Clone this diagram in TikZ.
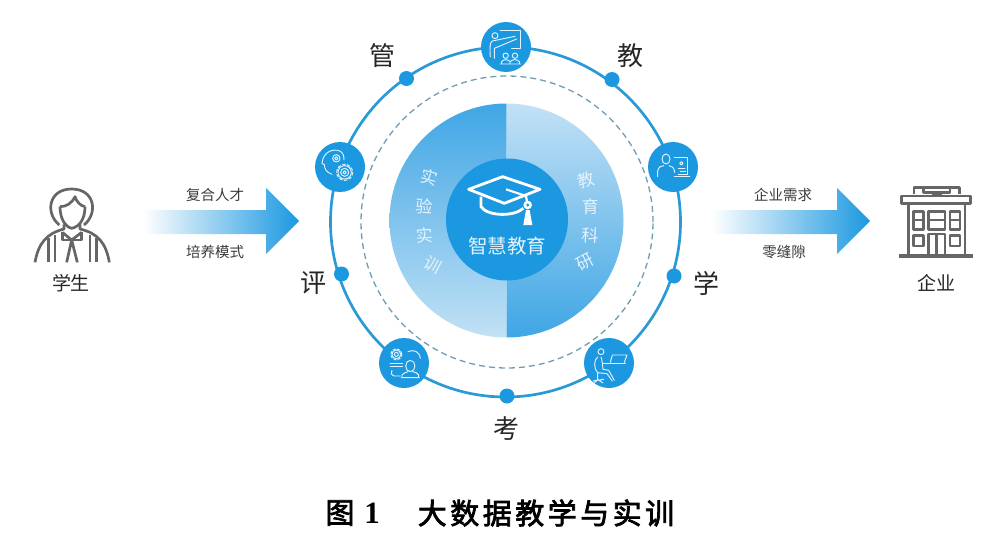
\documentclass[tikz,border=0pt]{standalone}
\usepackage{fontspec}
\newfontfamily\cjk{Noto Sans CJK SC}
\newfontfamily\cjkcap[LetterSpace=12,FakeBold=2.5]{Noto Sans CJK SC}
\newfontfamily\capfig{Liberation Serif}
\newcommand{\fsz}[1]{\fontsize{#1}{#1}\selectfont}
\definecolor{hubblue}{HTML}{1B98E0}
\definecolor{ringblue}{HTML}{2A9AD6}
\definecolor{dashgray}{HTML}{6E9DB3}
\definecolor{iconline}{HTML}{E3F3FC}
\definecolor{graytxt}{HTML}{3A3A3A}
\definecolor{icongray}{HTML}{666666}
\definecolor{lightsec}{HTML}{C2E1F5}
\definecolor{darksec}{HTML}{3FA6E5}
\definecolor{midsec}{HTML}{5CB4EA}
\tikzset{
  hub/.style={circle,fill=hubblue,minimum size=50pt,inner sep=0pt},
  dot/.style={circle,fill=hubblue,minimum size=15pt,inner sep=0pt},
  bigc/.style={font=\cjk\fsz{26},text=black!85,inner sep=0pt},
  midc/.style={font=\cjk\fsz{19},text=black!85,inner sep=0pt},
  smallc/.style={font=\cjk\fsz{14.5},text=graytxt,inner sep=0pt},
  sect/.style={font=\cjk\fsz{17},text=iconline,inner sep=0pt},
  hubicon/.style={draw=iconline,line width=0.95pt,line cap=round,line join=round},
  gicon/.style={draw=icongray,line width=2.7pt,line join=round},
  zoomed/.style={shift={#1},scale=0.33333}
}
\begin{document}
\begin{tikzpicture}[x=1pt,y=-1pt]
\useasboundingbox (0,0) rectangle (989,554);
% rings
\node[circle,draw=ringblue,line width=2.7pt,minimum size=350pt,inner sep=0pt] (ring) at (505.5,222) {};
\node[circle,draw=dashgray,line width=1.3pt,dash pattern=on 6pt off 4pt,minimum size=292pt,inner sep=0pt] (dashring) at (507,222) {};
% sectors
\shade[shading angle=35,top color=darksec,middle color=midsec,bottom color=lightsec]
  (506.5,103.5) arc[start angle=90,end angle=270,radius=117pt] -- cycle;
\shade[shading angle=35,top color=lightsec,middle color=midsec,bottom color=darksec]
  (506.5,103.5) arc[start angle=90,end angle=-90,radius=117pt] -- cycle;
\node[circle,fill=hubblue,minimum size=122pt,inner sep=0pt] (core) at (507,219.5) {};
% hubs and dots
\node[hub] (hubT) at (506,47) {};
\node[hub] (hubL) at (340,167) {};
\node[hub] (hubR) at (673,167) {};
\node[hub] (hubBL) at (404,363) {};
\node[hub] (hubBR) at (609,363) {};
\node[dot] (dotM) at (406.5,78.5) {};
\node[dot] (dotJ) at (612,79.5) {};
\node[dot] (dotP) at (341.5,274) {};
\node[dot] (dotX) at (674,276) {};
\node[dot] (dotK) at (507,396) {};
% labels around ring
\node[bigc] (tGuan) at (382,56) {管};
\node[bigc] (tJiao) at (630,56) {教};
\node[bigc] (tPing) at (313,283) {评};
\node[bigc] (tXue) at (706,283) {学};
\node[bigc] (tKao) at (506,429) {考};
% sector text
\node[sect,rotate=-15] (s1) at (429,177) {实};
\node[sect,rotate=-3] (s2) at (424,206) {验};
\node[sect,rotate=3] (s3) at (425,236) {实};
\node[sect,rotate=-28] (s4) at (433,265) {训};
\node[sect,rotate=15] (r1) at (586,180) {教};
\node[sect,rotate=2] (r2) at (591,207) {育};
\node[sect,rotate=-3] (r3) at (590,235) {科};
\node[sect,rotate=28] (r4) at (585,262) {研};
% cap
\begin{scope}[zoomed={(446,160)}]
  \draw[white,line width=2.8pt,line join=round] (68,88) -- (170,50) -- (282,88) -- (175,130) -- cycle;
  \draw[white,line width=2.8pt] (105,110) -- (105,140) .. controls (125,170) and (205,170) .. (232,145);
  \draw[white,line width=2.2pt] (180,88) -- (240,108) -- (243,125);
  \fill[white] (245,135) circle[radius=13];
  \fill[hubblue] (245,135) circle[radius=5];
  \fill[white] (240,150) -- (251,150) -- (259,195) -- (232,195) -- cycle;
\end{scope}
\node[font=\cjk\fsz{19.5},text=iconline,inner sep=0pt] (coretxt) at (507,246) {智慧教育};
% top hub icon
\begin{scope}[zoomed={(475,15)}]
  \draw[hubicon] (60,62) circle[radius=9];
  \draw[hubicon] (52,78) .. controls (44,82) and (44,100) .. (46,125) (58,130) -- (58,100) -- (125,72) (52,78) -- (120,64);
  \draw[hubicon] (75,45) -- (136,45) -- (136,100) -- (110,100);
  \draw[hubicon] (92,122) circle[radius=8] (120,122) circle[radius=8];
  \draw[hubicon] (80,146) -- (80,140) .. controls (84,132) and (100,132) .. (105,140) -- (105,146) (106,140) .. controls (110,132) and (128,132) .. (133,140) -- (133,146) (75,147) -- (138,147);
\end{scope}
% left hub icon
\begin{scope}[zoomed={(308,135)}]
  \draw[hubicon] (72,118) .. controls (55,112) and (48,100) .. (50,90) -- (42,85) .. controls (45,50) and (75,40) .. (95,48) .. controls (105,52) and (108,62) .. (108,75);
  \draw[hubicon] (85,70) circle[radius=11] (85,70) circle[radius=5];
  \draw[hubicon] (110,112) circle[radius=20] (110,112) circle[radius=12] (110,112) circle[radius=5];
  \draw[hubicon,dash pattern=on 3pt off 2pt,line width=1pt] (110,112) circle[radius=24];
\end{scope}
% right hub icon
\begin{scope}[zoomed={(641,135)}]
  \draw[hubicon] (75,72) ellipse[x radius=12,y radius=15];
  \draw[hubicon] (50,125) -- (50,108) .. controls (52,95) and (62,92) .. (68,92) (84,92) .. controls (92,92) and (100,98) .. (101,112);
  \draw[hubicon] (100,68) -- (140,68) -- (140,118) -- (112,118);
  \draw[hubicon] (121,85) circle[radius=5];
  \draw[hubicon] (112,100) -- (132,100) (118,108) -- (134,108);
  \draw[hubicon] (100,124) -- (147,124);
\end{scope}
% lower left hub icon
\begin{scope}[zoomed={(372,331)}]
  \draw[hubicon] (73,70) circle[radius=13] (73,70) circle[radius=6];
  \draw[hubicon,dash pattern=on 2.5pt off 2pt,line width=1pt] (73,70) circle[radius=17];
  \draw[hubicon] (54,96) -- (92,96) (54,106) -- (92,106);
  \draw[hubicon] (108,62) .. controls (125,55) and (142,60) .. (145,82);
  \draw[hubicon] (115,105) ellipse[x radius=14,y radius=17];
  \draw[hubicon] (90,140) -- (90,132) .. controls (95,125) and (102,124) .. (108,122) (122,122) .. controls (130,124) and (138,126) .. (140,132) -- (140,140) (88,140) -- (142,140);
  \draw[hubicon] (60,118) .. controls (56,128) and (60,135) .. (66,135) -- (85,135);
\end{scope}
% lower right hub icon
\begin{scope}[zoomed={(577,331)}]
  \draw[hubicon] (72,62) circle[radius=9];
  \draw[hubicon] (62,78) .. controls (50,85) and (50,115) .. (62,125) -- (90,128) -- (106,150);
  \draw[hubicon] (72,78) .. controls (76,88) and (76,100) .. (78,115) -- (95,118) -- (112,148);
  \draw[hubicon] (78,96) -- (145,96);
  \draw[hubicon] (106,72) -- (150,72) -- (142,94) (106,72) -- (100,94);
  \draw[hubicon] (62,125) -- (62,145) (48,150) -- (80,145) (62,145) -- (50,158) (62,145) -- (78,156);
\end{scope}
% arrows
\shade[left color=white,middle color=hubblue!60,right color=hubblue]
  (143,210) -- (266,210) -- (266,188) -- (299,221) -- (266,254) -- (266,234) -- (143,234) -- cycle;
\shade[left color=white,middle color=hubblue!60,right color=hubblue]
  (712,210) -- (837,210) -- (837,188) -- (870,221) -- (837,254) -- (837,234) -- (712,234) -- cycle;
\node[smallc] (a1) at (215,195) {复合人才};
\node[smallc] (a2) at (215,252) {培养模式};
\node[smallc] (b1) at (783,195) {企业需求};
\node[smallc] (b2) at (784,252) {零缝隙};
% student
\begin{scope}[zoomed={(30,175)}]
  \draw[gicon] (88,150) .. controls (45,115) and (55,42) .. (125,42) .. controls (195,42) and (205,115) .. (162,150);
  \draw[gicon] (90,95) .. controls (110,95) and (125,85) .. (135,65) .. controls (140,80) and (150,92) .. (165,95);
  \draw[gicon] (90,95) .. controls (90,130) and (105,155) .. (125,160) .. controls (150,155) and (165,130) .. (165,95);
  \draw[gicon] (102,148) -- (102,162) .. controls (50,175) and (25,205) .. (15,262);
  \draw[gicon] (150,148) -- (150,162) .. controls (205,175) and (228,205) .. (238,262);
  \draw[gicon] (55,190) -- (55,262) (75,180) -- (75,262) (180,180) -- (180,262) (200,190) -- (200,262);
  \draw[gicon] (97,172) -- (125,195) -- (155,172) (125,195) -- (110,262) (125,195) -- (142,262);
  \draw[gicon] (97,172) -- (97,195) -- (125,195) -- (155,195) -- (155,172);
\end{scope}
\node[midc] (stu) at (71,283) {学生};
% building
\begin{scope}[zoomed={(700,170)}]
  \draw[gicon] (642,72) -- (642,52) -- (778,52) -- (778,72) (670,52) -- (670,68) -- (750,68) -- (750,52);
  \draw[gicon] (695,76) -- (725,76);
  \draw[gicon] (605,78) rectangle (812,100);
  \draw[gicon] (625,100) -- (625,257) (795,100) -- (795,257);
  \draw[draw=icongray,line width=3.6pt] (598,258) -- (818,258);
  \draw[gicon] (640,125) rectangle (670,178) (640,150) -- (670,150);
  \draw[gicon] (685,125) rectangle (735,178) (685,150) -- (735,150);
  \draw[gicon] (750,125) rectangle (780,178) (750,150) -- (780,150);
  \draw[gicon] (640,197) rectangle (670,228);
  \draw[gicon] (750,197) rectangle (780,228);
  \draw[gicon] (685,257) -- (685,192) -- (735,192) -- (735,257) (710,192) -- (710,257);
\end{scope}
\node[midc] (ent) at (936,283) {企业};
% caption
\node[font=\cjkcap\fsz{29},text=black,inner sep=0pt] (capA) at (340,513) {图};
\node[font=\capfig\bfseries\fsz{31},text=black,inner sep=0pt] (capB) at (372,513) {1};
\node[font=\cjkcap\fsz{29},text=black,inner sep=0pt] (capC) at (546,513) {大数据教学与实训};
\end{tikzpicture}
\end{document}
